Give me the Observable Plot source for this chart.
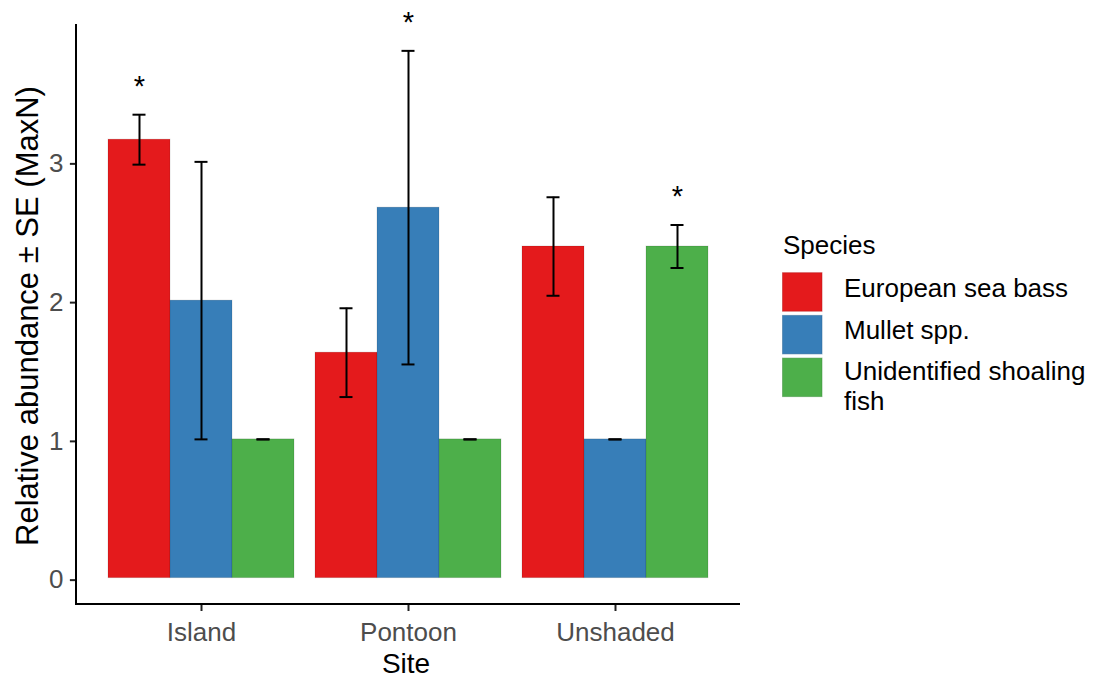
<!DOCTYPE html>
<html><head><meta charset="utf-8">
<script src="https://cdn.jsdelivr.net/npm/d3@7"></script>
<script src="https://cdn.jsdelivr.net/npm/@observablehq/plot@0.6"></script>
<style>
html,body{margin:0;padding:0;background:#fff;}
#chart{position:relative;width:1103px;height:682px;overflow:hidden;}
</style></head><body><div id="chart"></div>
<script>
// ---- data ----
const sites = ["Island", "Pontoon", "Unshaded"];
const species = ["European sea bass", "Mullet spp.", "Unidentified shoaling fish"];
const seaBassMean = [3.16, 1.625, 2.39];
const seaBassSE = [0.18, 0.32, 0.355];
const mulletMean = [2.00, 2.67, 1.00];
const mulletSE = [1.00, 1.13, 0.00];
const shoalingMean = [1.00, 1.00, 2.39];
const shoalingSE = [0.00, 0.00, 0.155];
const significant = [["Island", "European sea bass"], ["Pontoon", "Mullet spp."], ["Unshaded", "Unidentified shoaling fish"]];
const speciesColors = ["#E41A1C", "#377EB8", "#4DAF4A"];
const yTicks = [0, 1, 2, 3];
const legendTitle = "Species";
const legendLabels = [["European sea bass"], ["Mullet spp."], ["Unidentified shoaling", "fish"]];
const xTitle = "Site";
const yTitle = "Relative abundance \u00B1 SE (MaxN)";

// ---- build table ----
const means = [seaBassMean, mulletMean, shoalingMean];
const ses = [seaBassSE, mulletSE, shoalingSE];
const rows = [];
sites.forEach((site, i) => species.forEach((sp, j) => rows.push({site, species: sp, mean: means[j][i], se: ses[j][i]})));
const starRows = rows.filter(r => significant.some(([s, sp]) => s === r.site && sp === r.species));

const W = 1103, H = 682, mL = 76, mR = 363, mT = 24, mB = 78;
const fxPad = {paddingInner: 0.1, paddingOuter: 0.15};
const fxPre = Plot.scale({x: {type: "band", domain: sites, range: [mL, W - mR], ...fxPad}});
const axisDx = mL - fxPre.apply(sites[0]);
const yMax = d3.max(rows, d => d.mean + d.se);
const yDomain = [-0.05 * yMax, yMax * 1.05];
const FONT = "'Liberation Sans', Arial, sans-serif";

const plot = Plot.plot({
  width: W, height: H,
  marginLeft: mL, marginRight: mR, marginTop: mT, marginBottom: mB,
  style: {fontFamily: FONT, fontSize: "26px", background: "#fff", overflow: "visible"},
  fx: {domain: sites, ...fxPad, label: null, axis: null},
  x: {domain: species, padding: 0, axis: null},
  y: {domain: yDomain, axis: null},
  color: {domain: species, range: speciesColors},
  marks: [
    Plot.barY(rows, {fx: "site", x: "species", y: "mean", fill: "species", stroke: "#000", strokeOpacity: 0.12, strokeWidth: 1}),
    Plot.ruleX(rows, {fx: "site", x: "species", y1: d => d.mean - d.se, y2: d => d.mean + d.se, stroke: "#000", strokeWidth: 2}),
    Plot.tickY(rows, {fx: "site", x: "species", y: d => d.mean - d.se, insetLeft: 24.5, insetRight: 24.5, stroke: "#000", strokeWidth: 2}),
    Plot.tickY(rows, {fx: "site", x: "species", y: d => d.mean + d.se, insetLeft: 24.5, insetRight: 24.5, stroke: "#000", strokeWidth: 2}),
    Plot.text(starRows, {fx: "site", x: "species", y: d => d.mean + d.se, text: () => "*", dy: -28, fontSize: 29, fill: "#000"}),
    Plot.axisY({ticks: yTicks, tickFormat: d => String(d), tickSize: 7, tickPadding: 7, dx: axisDx, dy: 2,
      fontSize: 26, color: "#4d4d4d", stroke: "#222", strokeWidth: 2, label: null}),
    Plot.axisFx({anchor: "bottom", tickSize: 7, tickPadding: 11, fontSize: 26, color: "#4d4d4d",
      stroke: "#222", strokeWidth: 2, label: null})
  ]
});
document.getElementById("chart").appendChild(plot);

// ---- axis lines, titles and legend (positions from Plot's scales) ----
const svg = d3.select(plot);
const yr = plot.scale("y").range;
const fr = plot.scale("fx").range;
svg.append("line").attr("x1", fr[0]).attr("x2", fr[0]).attr("y1", yr[0] + 1).attr("y2", yr[1])
  .attr("stroke", "#000").attr("stroke-width", 2);
svg.append("line").attr("x1", fr[0] - 1).attr("x2", fr[1]).attr("y1", yr[0]).attr("y2", yr[0])
  .attr("stroke", "#000").attr("stroke-width", 2);

svg.append("text").text(yTitle)
  .attr("transform", `translate(38,${(yr[0] + yr[1]) / 2 + 2}) rotate(-90)`)
  .attr("text-anchor", "middle").attr("font-size", 31).attr("fill", "#000").attr("font-family", FONT);
svg.append("text").text(xTitle)
  .attr("x", (fr[0] + fr[1]) / 2 - 2).attr("y", 673)
  .attr("text-anchor", "middle").attr("font-size", 28).attr("fill", "#000").attr("font-family", FONT);

const color = plot.scale("color");
const lg = svg.append("g").attr("font-family", FONT).attr("font-size", 26).attr("fill", "#000")
  .attr("text-anchor", "start");
lg.append("text").text(legendTitle).attr("x", 783).attr("y", 254);
const keyTop = 272.7, keyStep = 42.7, keyW = 39.5, keyH = 38.5;
species.forEach((sp, i) => {
  const fill = color.apply(sp);
  lg.append("rect").attr("x", 782.5).attr("y", keyTop + i * keyStep).attr("width", keyW).attr("height", keyH)
    .attr("fill", fill).attr("stroke", d3.color(fill).darker(0.6)).attr("stroke-opacity", 0.5);
  const lines = legendLabels[i];
  const base = lines.length === 1 ? keyTop + i * keyStep + 24 : keyTop + i * keyStep + 22;
  lines.forEach((ln, k) => lg.append("text").text(ln).attr("x", 844).attr("y", base + k * 30));
});
</script>
</body></html>
